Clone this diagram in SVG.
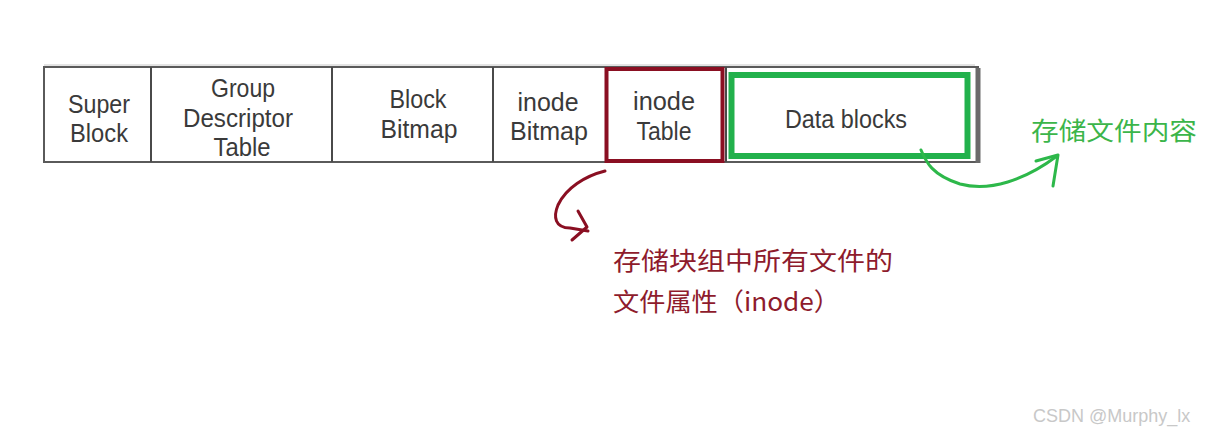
<svg xmlns="http://www.w3.org/2000/svg" width="1230" height="435" viewBox="0 0 1230 435">
<style>
.lbl{font-family:"Liberation Sans",Arial,sans-serif;font-size:26px;fill:#3a3a3a;text-anchor:middle}
.red{font-family:"Noto Sans CJK SC","Noto Sans",sans-serif;font-size:25px;fill:#8e1b2c}
.grn{font-family:"Noto Sans CJK SC","Noto Sans",sans-serif;font-size:25px;fill:#3bb54a}
.wm{font-family:"Liberation Sans",Arial,sans-serif;font-size:18px;fill:#c8c8c8}
.div{stroke:#4a4a4a;stroke-width:2}
</style>
<rect width="1230" height="435" fill="#ffffff"/>
<g id="layout">
  <rect x="44" y="67" width="934" height="95" fill="#ffffff" stroke="#5a5a5a" stroke-width="2"/>
  <line x1="978" y1="68" x2="978" y2="163" stroke="#6a6a6a" stroke-width="5"/>
  <line x1="44" y1="65" x2="975" y2="65" stroke="#c8c8c8" stroke-width="1"/>
</g>
<g id="super-block">
  <line class="div" x1="151" y1="67" x2="151" y2="162"/>
  <text class="lbl" x="99" y="113" textLength="62" lengthAdjust="spacingAndGlyphs">Super</text>
  <text class="lbl" x="99" y="142" textLength="58" lengthAdjust="spacingAndGlyphs">Block</text>
</g>
<g id="group-descriptor-table">
  <line class="div" x1="332" y1="67" x2="332" y2="162"/>
  <text class="lbl" x="243" y="97" textLength="64" lengthAdjust="spacingAndGlyphs">Group</text>
  <text class="lbl" x="238" y="127" textLength="110" lengthAdjust="spacingAndGlyphs">Descriptor</text>
  <text class="lbl" x="242" y="156" textLength="57" lengthAdjust="spacingAndGlyphs">Table</text>
</g>
<g id="block-bitmap">
  <line class="div" x1="493" y1="67" x2="493" y2="162"/>
  <text class="lbl" x="418" y="108" textLength="57" lengthAdjust="spacingAndGlyphs">Block</text>
  <text class="lbl" x="419" y="138" textLength="77" lengthAdjust="spacingAndGlyphs">Bitmap</text>
</g>
<g id="inode-bitmap">
  <text class="lbl" x="548" y="111" textLength="61" lengthAdjust="spacingAndGlyphs">inode</text>
  <text class="lbl" x="549" y="140" textLength="78" lengthAdjust="spacingAndGlyphs">Bitmap</text>
</g>
<g id="inode-table">
  <rect x="606.5" y="69" width="116" height="92" fill="none" stroke="#8a0f22" stroke-width="4"/>
  <text class="lbl" x="664" y="110" textLength="62" lengthAdjust="spacingAndGlyphs">inode</text>
  <text class="lbl" x="664" y="140" textLength="55" lengthAdjust="spacingAndGlyphs">Table</text>
</g>
<g id="data-blocks">
  <line class="div" x1="726" y1="67" x2="726" y2="162"/>
  <rect x="731.5" y="75" width="236" height="81" fill="none" stroke="#22b14c" stroke-width="6"/>
  <text class="lbl" x="846" y="128" textLength="122" lengthAdjust="spacingAndGlyphs">Data blocks</text>
</g>
<g id="connectors" fill="none" stroke-linecap="round" stroke-linejoin="round">
  <path d="M605,171 C585,176 566,188 558,205 C553,217 555,228 570,228 L588,231" stroke="#8a0f22" stroke-width="3"/>
  <path d="M578,211 L587,227 L572,240" stroke="#8a0f22" stroke-width="3"/>
  <path d="M921,150 C926,162 932,175 960,184 C990,192 1025,180 1057,156" stroke="#2db84a" stroke-width="3"/>
  <path d="M1036,161 L1058,155 L1053,186" stroke="#2db84a" stroke-width="3"/>
</g>
<g id="inode-note">
  <text class="red" x="613" y="270" textLength="280" lengthAdjust="spacingAndGlyphs">存储块组中所有文件的</text>
  <text class="red" x="613" y="311" textLength="227" lengthAdjust="spacingAndGlyphs">文件属性（inode）</text>
</g>
<g id="data-note">
  <text class="grn" x="1031" y="140" textLength="166" lengthAdjust="spacingAndGlyphs">存储文件内容</text>
</g>
<text class="wm" x="1033" y="422">CSDN @Murphy_lx</text>
</svg>
